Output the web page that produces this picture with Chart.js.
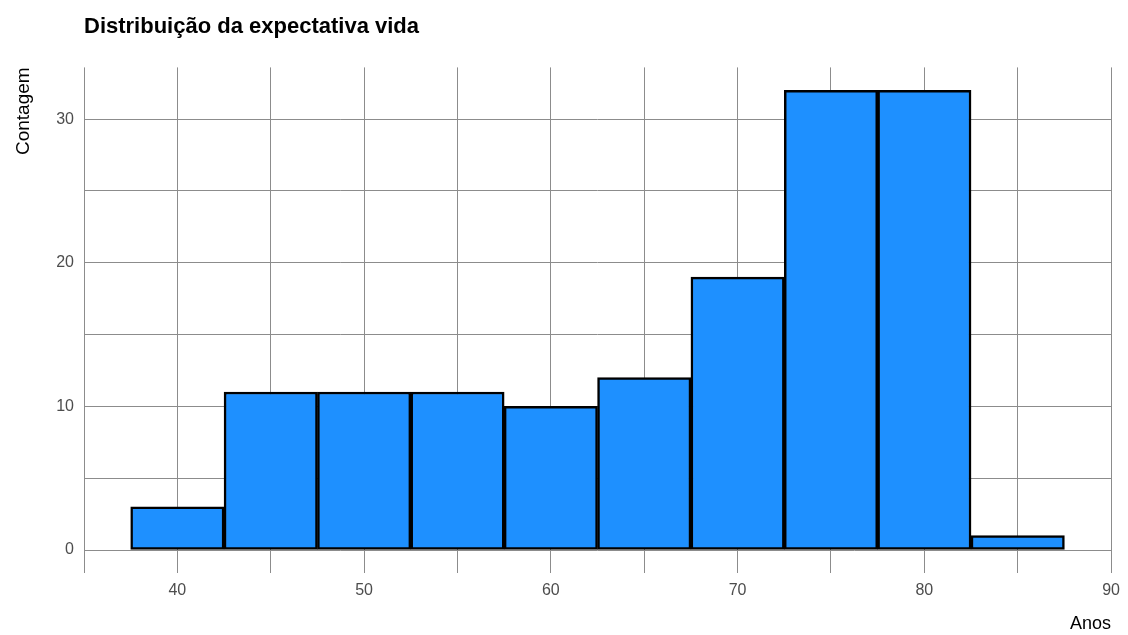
<!DOCTYPE html>
<html>
<head>
<meta charset="utf-8">
<script src="https://cdn.jsdelivr.net/npm/chart.js@4.4.0/dist/chart.umd.min.js"></script>
<style>
  html, body { margin: 0; padding: 0; background: #fff; }
  #wrap { width: 1128px; height: 635px; }
</style>
</head>
<body>
<div id="wrap"><canvas id="histChart"></canvas></div>
<script>
// dados do histograma (centro de cada classe, largura 5 anos)
const binCenters = [40, 45, 50, 55, 60, 65, 70, 75, 80, 85];
const counts = [3, 11, 11, 11, 10, 12, 19, 32, 32, 1];
const xGridTicks = [35, 40, 45, 50, 55, 60, 65, 70, 75, 80, 85, 90];
const xLabelTicks = [40, 50, 60, 70, 80, 90];
const yGridTicks = [0, 5, 10, 15, 20, 25, 30];
const yLabelTicks = [0, 10, 20, 30];

const FONT = "'Liberation Sans Narrow', 'Liberation Sans', Arial, sans-serif";
const gridColor = '#8c8c8c';

document.addEventListener("DOMContentLoaded", function () {
    const points = binCenters.map((c, i) => ({ x: c, y: counts[i] }));

    const ctx = document.getElementById('histChart').getContext('2d');
    new Chart(ctx, {
        type: 'bar',
        data: {
            datasets: [{
                label: 'Contagem',
                data: points,
                backgroundColor: '#1E90FF',
                borderColor: '#000000',
                borderWidth: 2.5,
                borderSkipped: false,
                barPercentage: 1,
                categoryPercentage: 1
            }]
        },
        options: {
            responsive: true,
            maintainAspectRatio: false,
            animation: false,
            layout: { padding: { left: 0, right: 14, top: 0, bottom: 0 } },
            plugins: {
                legend: { display: false },
                tooltip: { enabled: false },
                title: {
                    display: true,
                    text: 'Distribuição da expectativa vida',
                    align: 'start',
                    fullSize: false,
                    color: '#000',
                    font: { family: FONT, size: 22, weight: 'bold' },
                    padding: { top: 14, bottom: 27 }
                }
            },
            scales: {
                x: {
                    type: 'linear',
                    min: 35,
                    max: 90,
                    offset: false,
                    afterBuildTicks: function (scale) {
                        scale.ticks = xGridTicks.map(v => ({ value: v }));
                    },
                    afterFit: function (scale) { scale.height = 62; },
                    grid: { color: gridColor, lineWidth: 1, drawTicks: false, offset: false },
                    border: { display: false },
                    ticks: {
                        autoSkip: false,
                        maxRotation: 0,
                        padding: 8,
                        color: '#4d4d4d',
                        font: { family: FONT, size: 16 },
                        callback: v => xLabelTicks.includes(v) ? String(v) : ''
                    },
                    title: {
                        display: true,
                        text: 'Anos',
                        align: 'end',
                        color: '#000',
                        font: { family: FONT, size: 18 },
                        padding: { top: 2, bottom: 0 }
                    }
                },
                y: {
                    min: -1.6,
                    max: 33.6,
                    afterBuildTicks: function (scale) {
                        scale.ticks = yGridTicks.map(v => ({ value: v }));
                    },
                    afterFit: function (scale) { scale.width = 84; },
                    grid: { color: gridColor, lineWidth: 1, drawTicks: false },
                    border: { display: false },
                    ticks: {
                        autoSkip: false,
                        padding: 10,
                        color: '#4d4d4d',
                        font: { family: FONT, size: 16 },
                        callback: v => yLabelTicks.includes(v) ? String(v) : ''
                    },
                    title: {
                        display: true,
                        text: 'Contagem',
                        align: 'end',
                        color: '#000',
                        font: { family: FONT, size: 19 },
                        padding: { top: 12, bottom: 4 }
                    }
                }
            }
        }
    });
});
</script>
</body>
</html>
